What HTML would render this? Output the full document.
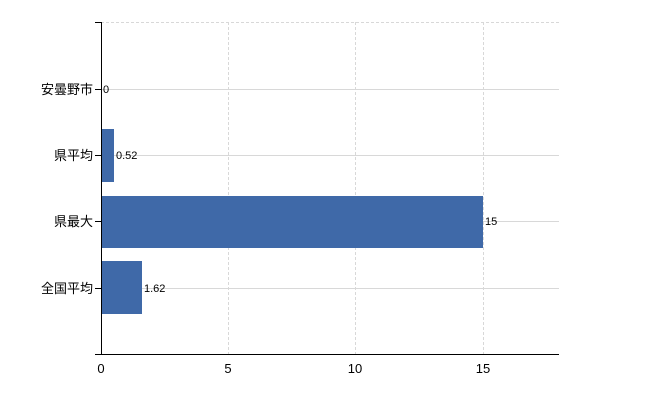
<!DOCTYPE html>
<html><head><meta charset="utf-8"><style>
body{margin:0;background:#fff;width:650px;height:400px;overflow:hidden}
svg{font-family:"Liberation Sans","Noto Sans CJK JP",sans-serif}
</style></head><body>
<svg width="650" height="400" xmlns="http://www.w3.org/2000/svg">
<g stroke="#d8d8d8" stroke-width="1">
<line x1="101" y1="22.5" x2="559" y2="22.5" stroke-dasharray="3,2"/>
<line x1="228.5" y1="22" x2="228.5" y2="355" stroke-dasharray="3,2"/>
<line x1="355.5" y1="22" x2="355.5" y2="355" stroke-dasharray="3,2"/>
<line x1="483.5" y1="22" x2="483.5" y2="355" stroke-dasharray="3,2"/>
<line x1="101" y1="89.5" x2="559" y2="89.5"/>
<line x1="101" y1="155.5" x2="559" y2="155.5"/>
<line x1="101" y1="221.5" x2="559" y2="221.5"/>
<line x1="101" y1="288.5" x2="559" y2="288.5"/>
</g>
<g fill="#3f69a8">
<rect x="101" y="129" width="13" height="53"/>
<rect x="101" y="196" width="382" height="52"/>
<rect x="101" y="261" width="41" height="53"/>
</g>
<g stroke="#000" stroke-width="1">
<line x1="101.5" y1="22" x2="101.5" y2="355"/>
<line x1="95" y1="22.5" x2="101" y2="22.5"/>
<line x1="95" y1="89.5" x2="101" y2="89.5"/>
<line x1="95" y1="155.5" x2="101" y2="155.5"/>
<line x1="95" y1="221.5" x2="101" y2="221.5"/>
<line x1="95" y1="288.5" x2="101" y2="288.5"/>
<line x1="95" y1="354.5" x2="559" y2="354.5"/>
</g>
<g font-size="13" text-anchor="end" fill="#000">
<text x="93" y="94">安曇野市</text>
<text x="93" y="160">県平均</text>
<text x="93" y="226">県最大</text>
<text x="93" y="293">全国平均</text>
</g>
<g font-size="11" fill="#000">
<text x="103" y="93">0</text>
<text x="116" y="159">0.52</text>
<text x="485" y="225">15</text>
<text x="144" y="292">1.62</text>
</g>
<g font-size="13" text-anchor="middle" fill="#000">
<text x="101" y="373">0</text>
<text x="228" y="373">5</text>
<text x="355" y="373">10</text>
<text x="483" y="373">15</text>
</g>
</svg>
</body></html>
